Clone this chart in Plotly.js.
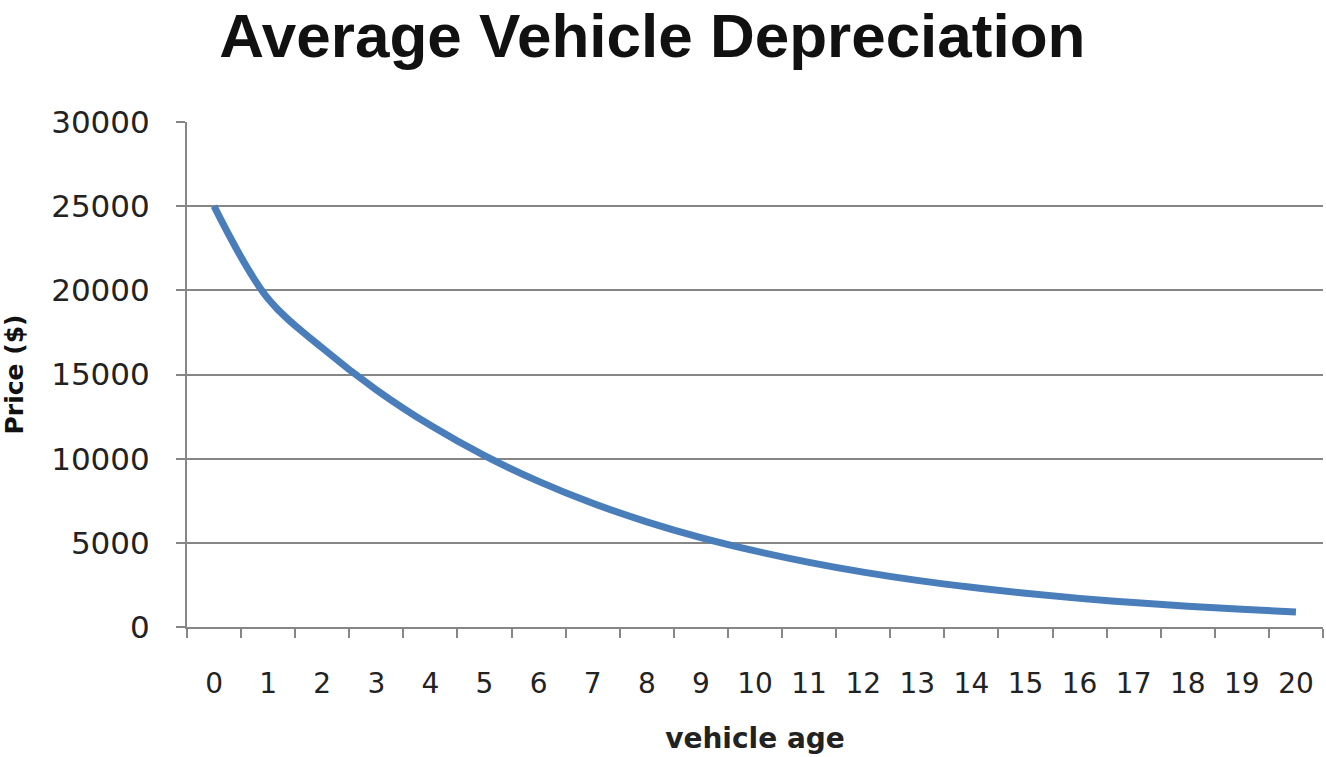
<!DOCTYPE html>
<html>
<head>
<meta charset="utf-8">
<script src="https://cdn.plot.ly/plotly-3.0.1.min.js"></script>
<style>
  html, body { margin: 0; padding: 0; background: #fff; }
  #chart { width: 1326px; height: 757px; }
</style>
</head>
<body>
<div id="chart"></div>
<script>
const vehicleAge = ["0","1","2","3","4","5","6","7","8","9","10","11","12","13","14","15","16","17","18","19","20"];
const price = [25000, 19500, 16580, 14090, 11980, 10180, 8650, 7350, 6250, 5310, 4520, 3840, 3260, 2770, 2360, 2000, 1700, 1450, 1230, 1050, 890];
const yTicks = [0, 5000, 10000, 15000, 20000, 25000, 30000];

const trace = {
  type: 'scatter',
  mode: 'lines',
  x: vehicleAge,
  y: price,
  line: { color: '#4A7EBB', width: 7, shape: 'spline', smoothing: 1 },
  hoverinfo: 'x+y'
};

const layout = {
  width: 1326,
  height: 757,
  paper_bgcolor: '#ffffff',
  plot_bgcolor: '#ffffff',
  margin: { l: 187, r: 3, t: 122, b: 130 },
  showlegend: false,
  title: {
    text: 'Average Vehicle Depreciation',
    font: { family: 'Liberation Sans Narrow, Arial Narrow, sans-serif', size: 62, color: '#111111', weight: 'bold' },
    xref: 'container', yref: 'container',
    x: 0.492, xanchor: 'center',
    y: 0.953, yanchor: 'middle'
  },
  xaxis: {
    type: 'category',
    range: [-0.5, 20.5],
    tickson: 'boundaries',
    ticks: 'outside',
    ticklen: 9,
    tickwidth: 2,
    tickcolor: '#868686',
    showline: true,
    linecolor: '#868686',
    linewidth: 2,
    showgrid: false,
    zeroline: false,
    tickfont: { family: 'DejaVu Sans, sans-serif', size: 28, color: '#222222' },
    ticklabelstandoff: 30,
    title: {
      text: 'vehicle age',
      font: { family: 'DejaVu Sans, sans-serif', size: 28, color: '#222222', weight: 'bold' },
      standoff: 30
    }
  },
  yaxis: {
    range: [0, 30000],
    tickvals: yTicks,
    ticktext: yTicks.map(String),
    ticks: 'outside',
    ticklen: 9,
    tickwidth: 2,
    tickcolor: '#868686',
    showline: true,
    linecolor: '#868686',
    linewidth: 2,
    showgrid: true,
    gridcolor: '#868686',
    gridwidth: 2,
    zeroline: false,
    tickfont: { family: 'DejaVu Sans, sans-serif', size: 31, color: '#222222' },
    ticklabelstandoff: 20,
    title: {
      text: 'Price ($)',
      font: { family: 'DejaVu Sans, sans-serif', size: 25, color: '#111111', weight: 'bold' },
      standoff: 20
    }
  }
};

Plotly.newPlot('chart', [trace], layout, { displayModeBar: false, staticPlot: true });
</script>
</body>
</html>
